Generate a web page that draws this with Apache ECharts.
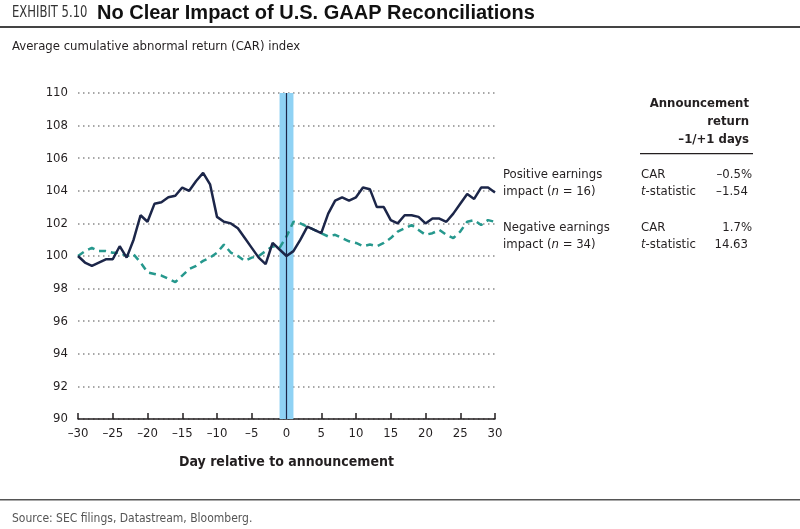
<!DOCTYPE html>
<html>
<head>
<meta charset="utf-8">
<script src="https://cdn.jsdelivr.net/npm/echarts@6/dist/echarts.min.js"></script>
<style>html,body{margin:0;padding:0;background:#fff}#c{width:800px;height:529px}</style>
</head>
<body>
<div id="c"></div>
<script>
const days = [];
for (let d = -30; d <= 30; d++) days.push(d);
const positive = [100.0,99.6,99.4,99.6,99.8,99.8,100.6,99.9,101.0,102.5,102.1,103.2,103.3,103.6,103.7,104.2,104.0,104.6,105.1,104.4,102.4,102.1,102.0,101.7,101.1,100.5,99.9,99.5,100.8,100.4,100.0,100.3,101.0,101.8,101.6,101.4,102.6,103.4,103.6,103.4,103.6,104.2,104.1,103.0,103.0,102.2,102.0,102.5,102.5,102.4,102.0,102.3,102.3,102.1,102.6,103.2,103.8,103.5,104.2,104.2,103.9];
const negative = [100.0,100.3,100.5,100.3,100.3,100.2,100.2,100.0,100.1,99.6,99.0,98.9,98.8,98.6,98.4,98.8,99.2,99.4,99.7,99.9,100.2,100.7,100.2,100.0,99.7,99.9,100.0,100.3,100.6,100.5,101.2,102.1,102.0,101.8,101.6,101.4,101.2,101.3,101.1,100.9,100.8,100.6,100.7,100.6,100.8,101.1,101.5,101.7,101.9,101.6,101.3,101.4,101.6,101.3,101.1,101.5,102.1,102.2,101.9,102.2,102.1];
const yTicks = [90,92,94,96,98,100,102,104,106,108,110];
const xTicks = [-30,-25,-20,-15,-10,-5,0,5,10,15,20,25,30];
const seriesNames = ['Positive earnings impact (n = 16)', 'Negative earnings impact (n = 34)'];
const stats = [['CAR','\u20130.5%'],['t-statistic','\u20131.54'],['CAR','1.7%'],['t-statistic','14.63']];

const F = "'Liberation Sans Narrow','DejaVu Sans Condensed',sans-serif";
const C = '#231f20';
const chart = echarts.init(document.getElementById('c'));
const txt = (x, y, text, opt) => ({type:'text', left:x, top:y, style:Object.assign({text, fill:C, font:'13px ' + F}, opt||{})});
const rtxt = (x, y, text, opt) => ({type:'text', x:x, y:y, style:Object.assign({text, fill:C, font:'13px ' + F, textAlign:'right', textVerticalAlign:'middle'}, opt||{})});

chart.setOption({
  animation:false,
  grid:{left:78, right:305, top:93, bottom:110},
  xAxis:{type:'value', min:-30, max:30, interval:5,
    axisLine:{lineStyle:{color:C, width:1.5}},
    axisTick:{inside:true, length:6, lineStyle:{color:C, width:1.5}},
    axisLabel:{color:C, fontFamily:F, fontSize:13, margin:8, formatter:v => String(v).replace('-', '\u2013')},
    splitLine:{show:false},
    name:'Day relative to announcement', nameLocation:'middle', nameGap:36,
    nameTextStyle:{color:C, fontFamily:F, fontSize:14, fontWeight:'bold'}
  },
  yAxis:{type:'value', min:90, max:110, interval:2,
    axisLine:{show:false}, axisTick:{show:false},
    axisLabel:{color:C, fontFamily:F, fontSize:13, margin:10},
    splitLine:{lineStyle:{color:'#8a8a8a', type:[1.5,3.5], width:1.5}}
  },
  series:[
    {name:seriesNames[0], type:'line', data:days.map((d,i)=>[d, positive[i]]), symbol:'none', z:4,
     lineStyle:{color:'#1c2649', width:2.5},
     markArea:{silent:true, itemStyle:{color:'#8fd2f4'}, data:[[{xAxis:-1},{xAxis:1}]]},
     markLine:{silent:true, symbol:'none', label:{show:false}, lineStyle:{color:'#1c2649', width:1.2, type:'solid'}, data:[{xAxis:0}]}
    },
    {name:seriesNames[1], type:'line', data:days.map((d,i)=>[d, negative[i]]), symbol:'none', z:3,
     lineStyle:{color:'#26988d', width:2.5, type:[7,5]}}
  ],
  graphic:[
    {type:'text', x:12, y:13, scaleX:0.86, style:{text:'EXHIBIT 5.10', fill:'#333', font:'15px ' + F, textVerticalAlign:'middle'}},
    {type:'text', x:97, y:13, style:{text:'No Clear Impact of U.S. GAAP Reconciliations', fill:'#111', font:'bold 20px "Liberation Sans",Arial,sans-serif', textVerticalAlign:'middle'}},
    {type:'rect', shape:{x:0, y:26, width:800, height:2}, style:{fill:'#444'}},
    txt(12, 40, 'Average cumulative abnormal return (CAR) index', {font:'13px ' + F}),
    rtxt(749, 104, 'Announcement', {font:'bold 13px ' + F}),
    rtxt(749, 122, 'return', {font:'bold 13px ' + F}),
    rtxt(749, 140, '\u20131/+1 days', {font:'bold 13px ' + F}),
    {type:'rect', shape:{x:640, y:153, width:113, height:1.2}, style:{fill:C}},
    txt(503, 168, 'Positive earnings'),
    {type:'text', left:503, top:185, style:{rich:{a:{font:'13px ' + F, fill:C}, i:{font:'italic 13px ' + F, fill:C}}, text:'{a|impact (}{i|n}{a| = 16)}'}},
    txt(503, 221, 'Negative earnings'),
    {type:'text', left:503, top:238, style:{rich:{a:{font:'13px ' + F, fill:C}, i:{font:'italic 13px ' + F, fill:C}}, text:'{a|impact (}{i|n}{a| = 34)}'}},
    txt(641, 168, stats[0][0]),
    {type:'text', left:641, top:185, style:{rich:{a:{font:'13px ' + F, fill:C}, i:{font:'italic 13px ' + F, fill:C}}, text:'{i|t}{a|-statistic}'}},
    txt(641, 221, stats[2][0]),
    {type:'text', left:641, top:238, style:{rich:{a:{font:'13px ' + F, fill:C}, i:{font:'italic 13px ' + F, fill:C}}, text:'{i|t}{a|-statistic}'}},
    rtxt(752, 175, stats[0][1]),
    rtxt(748, 192, stats[1][1]),
    rtxt(752, 228, stats[2][1]),
    rtxt(748, 245, stats[3][1]),
    {type:'rect', shape:{x:0, y:499, width:800, height:1.5}, style:{fill:'#555'}},
    txt(12, 513, 'Source: SEC filings, Datastream, Bloomberg.', {font:'12px ' + F, fill:'#555'})
  ]
});
</script>
</body>
</html>
